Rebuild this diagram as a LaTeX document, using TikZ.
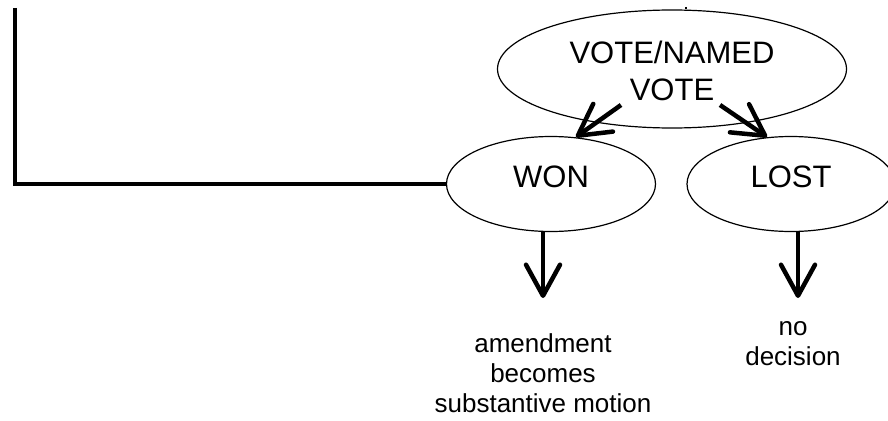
\documentclass[tikz,border=0pt]{standalone}
\usepackage{fontspec}
\setmainfont{Liberation Sans}
\usetikzlibrary{shapes.geometric,arrows.meta}
\begin{document}
\begin{tikzpicture}[x=1pt,y=-1pt,
  oval/.style={draw,line width=1.2pt,ellipse,inner sep=0pt},
  lab/.style={inner sep=0pt,align=center,font=\fontsize{31}{37}\selectfont},
  thick line/.style={line width=4.5pt},
  bigarrow/.style={line width=4.5pt,-{Straight Barb[length=31pt,width=34pt,line width=4.5pt,round]}},
  outtext/.style={inner sep=0pt,align=center,font=\fontsize{26}{30}\selectfont}]
\useasboundingbox (0,0) rectangle (888,420);
\node[oval,minimum width=349pt,minimum height=118pt] (vote) at (672,69) {};
\node[lab] (votelab) at (672,71) {VOTE/NAMED\\VOTE};
\node[oval,minimum width=209pt,minimum height=95pt] (won) at (551,184) {};
\node[lab] (wonlab) at (551,176.5) {WON};
\node[oval,minimum width=208pt,minimum height=95pt] (lost) at (791,184) {};
\node[lab] (lostlab) at (791,176.5) {LOST};
\coordinate (start) at (15,8);
\draw[thick line] (start) |- (won.west);
\coordinate (tick) at (686,7);
\draw[line width=1.5pt] (tick) -- (vote.north -| tick);
\coordinate (a1) at (621,105);
\coordinate (a2) at (720,105);
\coordinate (t1) at (576,137);
\coordinate (t2) at (767,137);
\draw[bigarrow] (a1) -- (t1);
\draw[bigarrow] (a2) -- (t2);
\coordinate (wonb) at (543,232);
\coordinate (lostb) at (798,232);
\coordinate (wont) at (543,298);
\coordinate (lostt) at (798,298);
\draw[bigarrow] (wonb) -- (wont);
\draw[bigarrow] (lostb) -- (lostt);
\node[outtext] (amend) at (543,373.5) {amendment\\becomes\\substantive motion};
\node[outtext] (nodec) at (793,344) {no\\decision};
\end{tikzpicture}
\end{document}
